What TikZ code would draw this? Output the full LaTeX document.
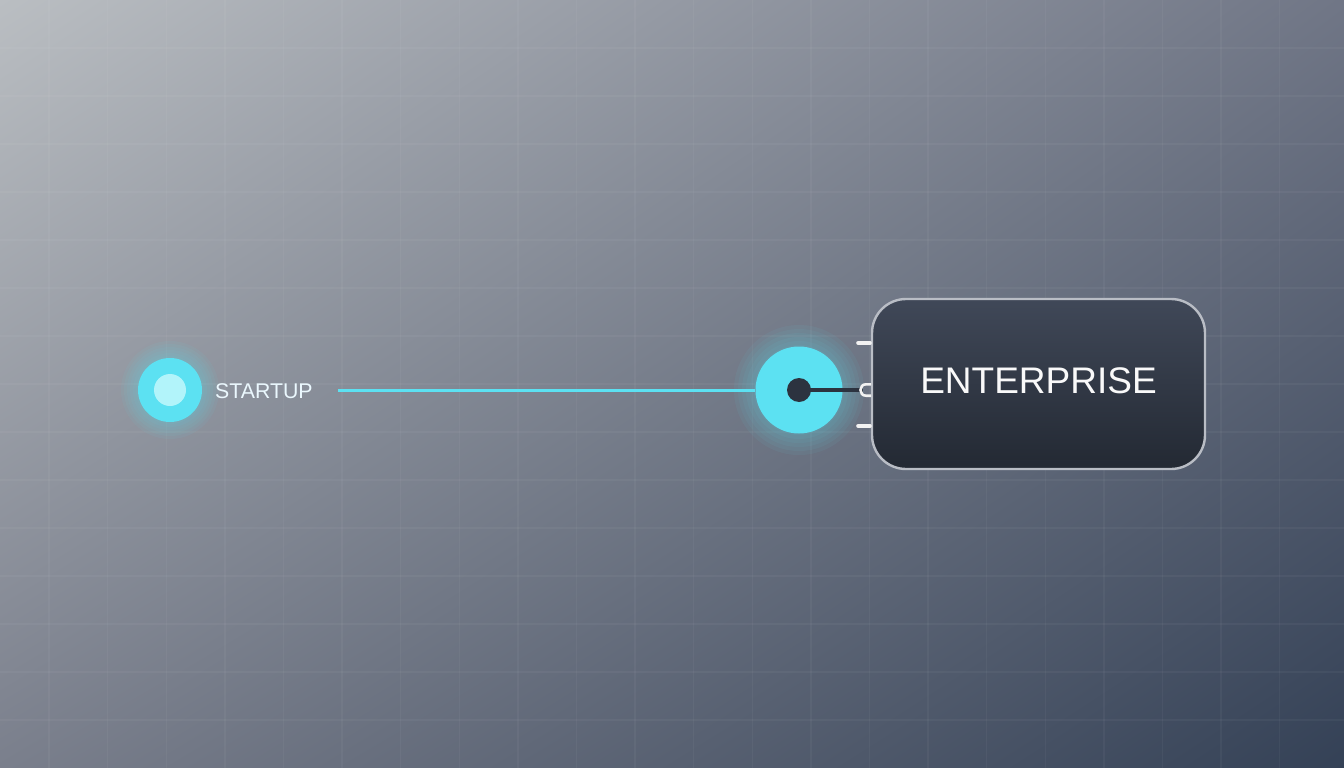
\documentclass[tikz,border=0pt]{standalone}
\usepackage{fontspec}
\setmainfont{Liberation Sans}
\usetikzlibrary{shadings}
\begin{document}
\begin{tikzpicture}[x=1pt,y=-1pt,
  glowc/.style={fill=cyanc, opacity=0.06, draw=none},
  porttick/.style={draw=white!90!gray, line width=3.6pt, line cap=round},
  gridln/.style={white, opacity=0.04, line width=1.4pt},
  lbl/.style={text=white!92!cyan, font=\fontsize{21.3}{24}\selectfont, inner sep=0pt, anchor=west}]
\definecolor{cyanc}{HTML}{5CE1F2}
\definecolor{cyanin}{HTML}{B2F4FA}
\definecolor{dotc}{HTML}{2C333F}
\definecolor{boxa}{HTML}{404858}
\definecolor{boxb}{HTML}{232933}
\definecolor{boxline}{HTML}{B9BDC5}
\definecolor{bgul}{RGB}{186,190,194}
\definecolor{bgur}{RGB}{112,118,134}
\definecolor{bgll}{RGB}{122,127,140}
\definecolor{bglr}{RGB}{52,65,86}
\useasboundingbox (0,0) rectangle (1344,768);
% background
\shade[shading=bilinear interpolation, upper left=bgul, upper right=bgur, lower left=bgll, lower right=bglr]
  (0,0) rectangle (1344,768);
% grid
\foreach \i in {0,...,22} {
  \draw[gridln] ({49+58.6*\i-58.6},0) -- ({49+58.6*\i-58.6},768);
}
\foreach \j in {1,...,15} {
  \draw[gridln] (0,{48*\j}) -- (1344,{48*\j});
}
% glows
\foreach \r in {34,37,40,43,46,49} { \fill[glowc] (170,390) circle (\r); }
\foreach \r in {45,49,53,57,61,65} { \fill[glowc] (799,390) circle (\r); }
% startup
\node[circle, fill=cyanc, minimum size=64pt, inner sep=0pt] (start) at (170,390) {};
\node[circle, fill=cyanin, minimum size=32pt, inner sep=0pt] (startin) at (170,390) {};
\node[lbl] (startlbl) at (215,391) {STARTUP};
\coordinate (lineA) at (338,390);
% big circle
\node[circle, fill=cyanc, minimum size=87pt, inner sep=0pt] (hub) at (799,390) {};
\draw[cyanc, line width=3pt] (lineA) -- (hub.west);
% enterprise box
\node[draw=boxline, line width=2.4pt, rounded corners=34pt, minimum width=333pt, minimum height=170pt,
      shading=axis, shading angle=-60, top color=boxa, bottom color=boxb, inner sep=0pt] (ent) at (1038.5,384) {};
\node[text=white!95!gray, font=\fontsize{37}{44}\selectfont, inner sep=0pt] (entlbl) at ([yshift=3pt]ent.center) {ENTERPRISE};
% ports
\coordinate (p1a) at (858,343); \coordinate (p1b) at (870,343);
\coordinate (p2a) at (858,426); \coordinate (p2b) at (870,426);
\draw[porttick] (p1a) -- (p1b);
\draw[porttick] (p2a) -- (p2b);
\node[circle, fill=dotc, minimum size=24pt, inner sep=0pt] (dot) at (799,390) {};
\coordinate (plug) at (863,390);
\draw[dotc, line width=4pt] (dot.center) -- (plug);
\draw[white!90!gray, line width=2.6pt] (871,384.3) -- (866,384.3) to[out=180,in=180,looseness=1.65] (866,395.7) -- (871,395.7);
\end{tikzpicture}
\end{document}
